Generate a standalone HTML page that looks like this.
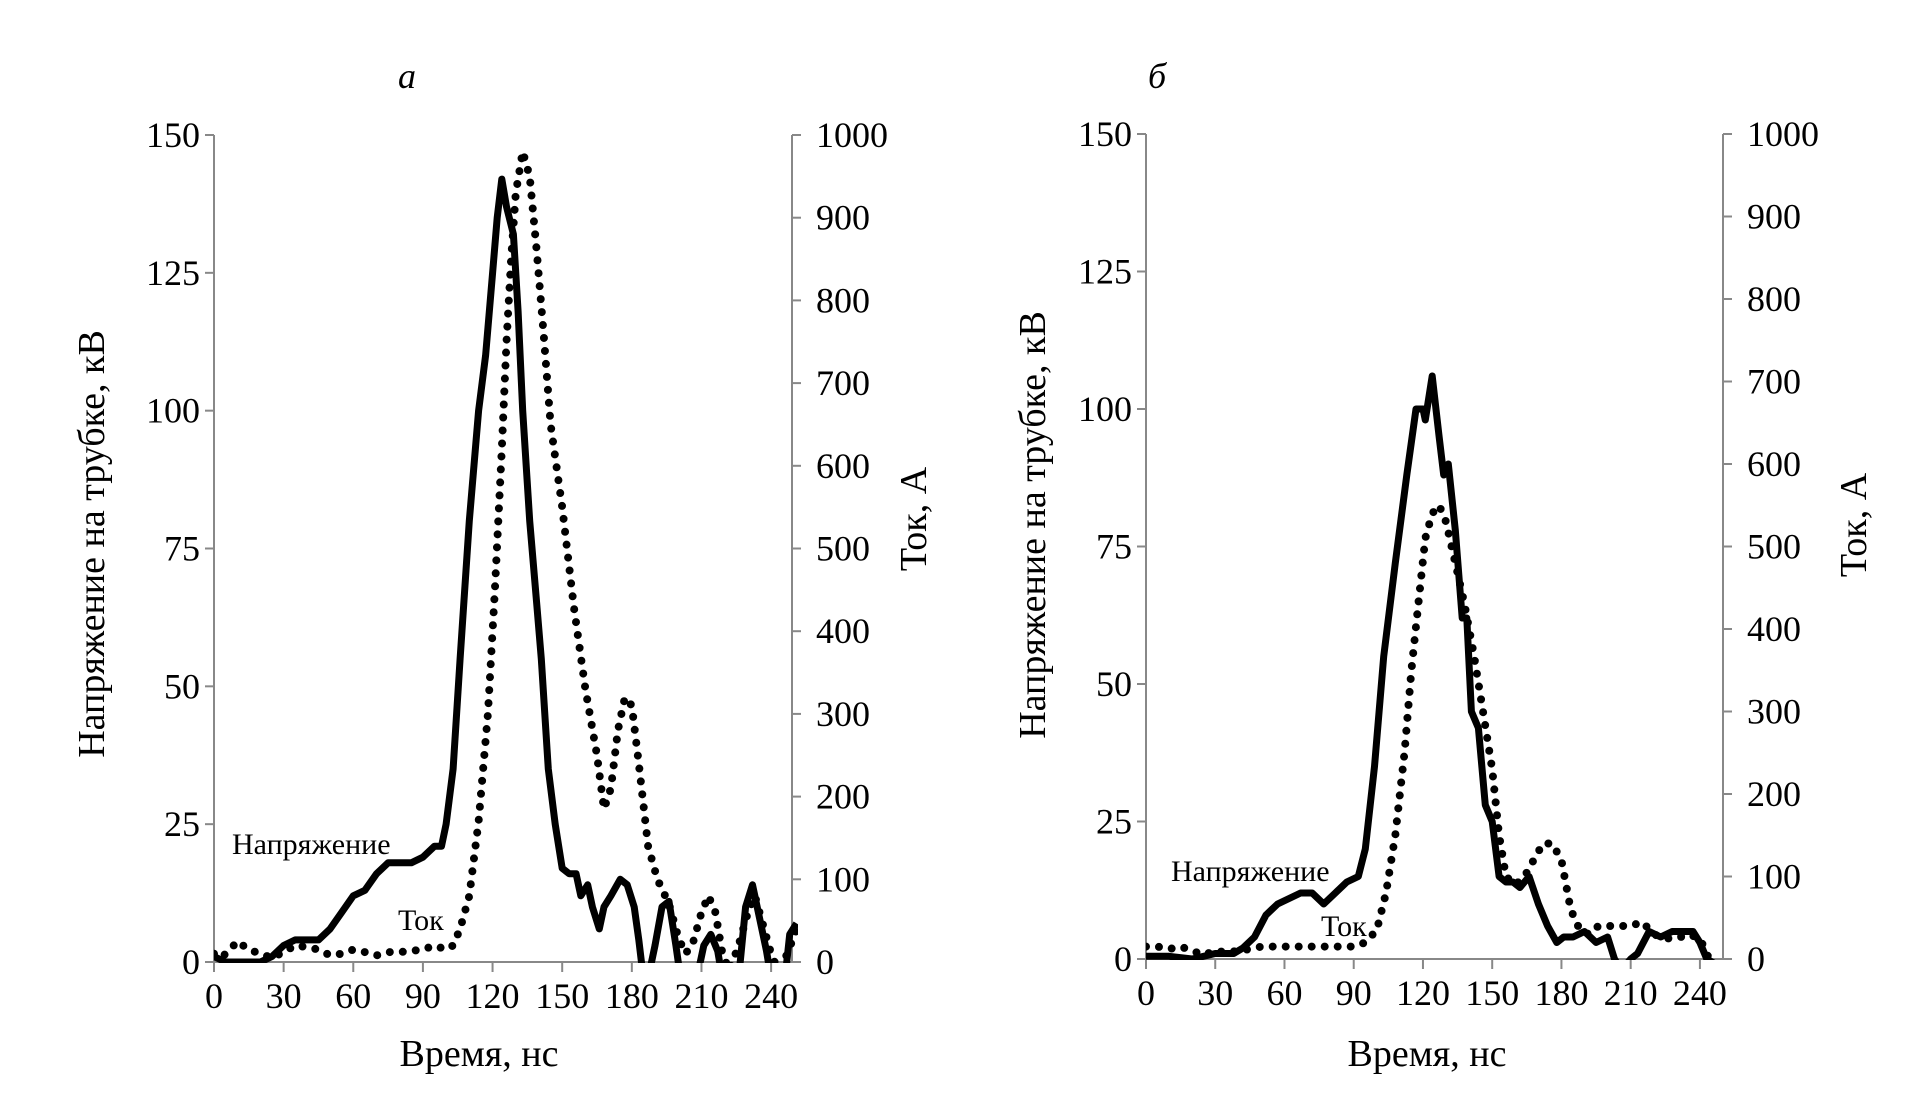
<!DOCTYPE html>
<html><head><meta charset="utf-8">
<style>
html,body{margin:0;padding:0;background:#fff;}
svg{display:block;}
svg text{font-family:"Liberation Serif","Times New Roman","DejaVu Serif",serif;}
</style></head>
<body>
<svg id="fig" width="1905" height="1099" viewBox="0 0 1905 1099" xmlns="http://www.w3.org/2000/svg"></svg>
<script>
// ---- data: panel a ----
const timeTicks = [0,30,60,90,120,150,180,210,240];
const voltTicks = [0,25,50,75,100,125,150];
const currTicks = [0,100,200,300,400,500,600,700,800,900,1000];

const aVoltT = [0,5,10,20,25,30,35,40,45,50,55,60,65,70,75,80,85,90,95,98,100,103,106,110,114,117,120,122,124,126,129,131,133,136,139,141,144,147,150,153,156,158,161,163,166,168,171,175,178,181,183,185,187,190,193,196,199,201,204,208,211,214,217,219,222,226,229,232,235,238,240,243,246,248,251];
const aVoltV = [1,0,0,0,1,3,4,4,4,6,9,12,13,16,18,18,18,19,21,21,25,35,55,80,100,110,125,135,142,137,132,118,100,80,65,55,35,25,17,16,16,12,14,10,6,10,12,15,14,10,4,-3,-3,3,10,11,3,-3,-3,-3,3,5,2,-3,-3,-3,10,14,8,2,-3,-3,-3,5,7];
const aCurrT = [0,3,7,10,15,20,25,30,35,40,45,50,55,60,65,70,75,80,90,95,100,103,106,110,114,118,121,124,126,128,130,133,136,139,142,145,150,155,160,165,168,171,174,177,180,183,187,191,196,200,203,206,210,213,216,219,222,226,230,233,236,240,243,247,251];
const aCurrV = [10,5,15,25,15,10,5,12,20,18,15,8,10,15,12,8,12,12,15,20,15,20,40,80,170,300,450,620,750,850,930,980,950,860,760,650,550,430,330,250,185,210,280,320,310,240,140,100,70,30,10,20,60,80,60,10,-10,20,60,80,50,10,-10,10,40];

// ---- data: panel б ----
const bVoltT = [0,10,20,30,38,42,47,52,57,62,67,72,77,82,87,92,95,99,103,108,113,117,120,121,124,127,129,131,134,137,139,141,144,147,150,153,156,159,162,166,170,174,178,181,185,190,195,200,203,206,210,213,218,223,228,233,237,240,243,247];
const bVoltV = [0.5,0.5,0,1,1,2,4,8,10,11,12,12,10,12,14,15,20,35,55,72,88,100,100,98,106,95,88,90,78,62,62,45,42,28,25,15,14,14,13,15,10,6,3,4,4,5,3,4,0,-2,0,1,5,4,5,5,5,3,0,-1];
const bCurrT = [0,5,10,15,20,25,30,35,40,45,50,60,70,80,90,95,100,104,108,112,115,118,121,124,127,130,134,138,142,146,150,153,156,160,164,168,172,176,180,184,188,192,196,200,205,210,215,220,225,230,235,240,244,248];
const bCurrV = [15,15,12,15,10,5,10,8,10,12,15,15,15,15,15,20,35,80,150,250,350,430,510,540,550,530,480,430,370,300,230,150,100,90,100,120,140,140,120,60,35,30,40,40,40,40,45,30,25,25,30,25,0,0];

const NS = "http://www.w3.org/2000/svg";
const svg = document.getElementById('fig');
const FF = '"Liberation Serif", "Times New Roman", serif';
function mk(tag, attrs, parent){
  const e = document.createElementNS(NS, tag);
  for (const k in attrs) e.setAttribute(k, attrs[k]);
  if (tag === 'text') e.setAttribute('font-family', FF);
  (parent||svg).appendChild(e);
  return e;
}

function drawPanel(p){
  const g = mk('g', {});
  
  
  const xS = t => p.x0 + (t / p.tMax) * (p.x1 - p.x0);
  const yL = v => p.y0 - (v / 150) * (p.y0 - p.yTop);
  const yR = v => p.y0 - (v / 1000) * (p.y0 - p.yTop);

  const clipId = 'clip-' + p.id;
  const defs = mk('defs', {}, g);
  const cp = mk('clipPath', {id: clipId}, defs);
  mk('rect', {x: p.x0, y: p.yTop - 20, width: p.x1 - p.x0 + 6, height: p.y0 - p.yTop + 21}, cp);

  const ttl = mk('text', {x: p.titleX, y: 88, 'font-size': 36, 'font-style': 'italic', 'text-anchor': 'middle'}, g);
  ttl.textContent = p.title;
  
  

  const axL = mk('line', {x1: p.x0, y1: p.yTop, x2: p.x0, y2: p.y0, stroke: '#888', 'stroke-width': 2}, g);
  
  
  const axR = mk('line', {x1: p.x1, y1: p.yTop, x2: p.x1, y2: p.y0, stroke: '#888', 'stroke-width': 2}, g);
  
  
  const axB = mk('line', {x1: p.x0, y1: p.y0, x2: p.x1, y2: p.y0, stroke: '#888', 'stroke-width': 2}, g);
  
  

  voltTicks.forEach(v => {
    const y = yL(v);
    mk('line', {x1: p.x0 - 9, y1: y, x2: p.x0, y2: y, stroke: '#888', 'stroke-width': 2}, g);
    const t = mk('text', {x: p.x0 - 14, y: y + 12, 'font-size': 36, 'text-anchor': 'end'}, g);
    t.textContent = v;
    
    
  });
  currTicks.forEach(v => {
    const y = yR(v);
    mk('line', {x1: p.x1, y1: y, x2: p.x1 + 9, y2: y, stroke: '#888', 'stroke-width': 2}, g);
    const t = mk('text', {x: p.x1 + 24, y: y + 12, 'font-size': 36, 'text-anchor': 'start'}, g);
    t.textContent = v;
    
    
  });
  timeTicks.forEach(v => {
    const x = xS(v);
    mk('line', {x1: x, y1: p.y0, x2: x, y2: p.y0 + 10, stroke: '#888', 'stroke-width': 2}, g);
    const t = mk('text', {x: x, y: p.y0 + 46, 'font-size': 36, 'text-anchor': 'middle'}, g);
    t.textContent = v;
    
    
  });

  const xt = mk('text', {x: p.xTitleX, y: 1066, 'font-size': 38, 'text-anchor': 'middle'}, g);
  xt.textContent = 'Время, нс';
  
  
  const yt = mk('text', {x: 0, y: 0, 'font-size': 38, 'text-anchor': 'middle', transform: 'translate(' + p.yTitleX + ',' + p.yTitleY + ') rotate(-90)'}, g);
  yt.textContent = 'Напряжение на трубке, кВ';
  
  
  const rt = mk('text', {x: 0, y: 0, 'font-size': 38, 'text-anchor': 'middle', transform: 'translate(' + p.rTitleX + ',' + p.rTitleY + ') rotate(-90)'}, g);
  rt.textContent = 'Ток, А';
  
  

  const cg = mk('g', {'clip-path': 'url(#' + clipId + ')'}, g);
  const dCurr = p.ct.map((t, i) => (i ? 'L' : 'M') + xS(t).toFixed(1) + ' ' + yR(p.cv[i]).toFixed(1)).join(' ');
  const cur = mk('path', {d: dCurr, fill: 'none', stroke: '#000', 'stroke-width': 8, 'stroke-linecap': 'round', 'stroke-dasharray': '0 13'}, cg);
  
  
  const dVolt = p.vt.map((t, i) => (i ? 'L' : 'M') + xS(t).toFixed(1) + ' ' + yL(p.vv[i]).toFixed(1)).join(' ');
  const vol = mk('path', {d: dVolt, fill: 'none', stroke: '#000', 'stroke-width': 7, 'stroke-linejoin': 'round'}, cg);
  
  

  const l1 = mk('text', {x: p.nX, y: p.nY, 'font-size': 30}, g);
  l1.textContent = 'Напряжение';
  
  
  const l2 = mk('text', {x: p.tX, y: p.tY, 'font-size': 30}, g);
  l2.textContent = 'Ток';
  
  
}

drawPanel({id:'a', title:'а', titleX:407, x0:214, x1:792, tMax:249, y0:962, yTop:135,
  vt:aVoltT, vv:aVoltV, ct:aCurrT, cv:aCurrV,
  xTitleX:479, yTitleX:104, yTitleY:544, rTitleX:926, rTitleY:519,
  nX:232, nY:854, tX:398, tY:930});
drawPanel({id:'b', title:'б', titleX:1157, x0:1146, x1:1723, tMax:250, y0:959, yTop:134,
  vt:bVoltT, vv:bVoltV, ct:bCurrT, cv:bCurrV,
  xTitleX:1427, yTitleX:1045, yTitleY:525, rTitleX:1866, rTitleY:525,
  nX:1171, nY:881, tX:1321, tY:936});
</script>
</body></html>
